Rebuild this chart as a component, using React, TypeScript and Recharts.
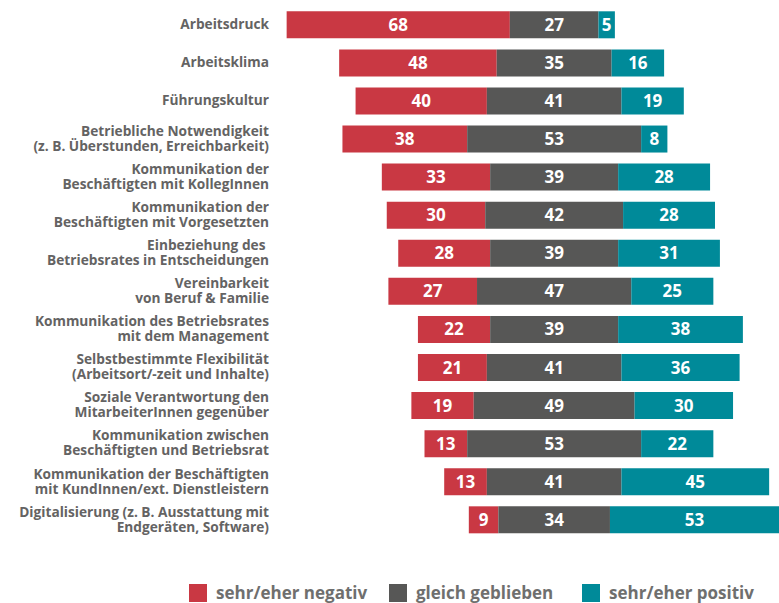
import { BarChart, Bar, XAxis, YAxis, LabelList } from 'recharts';

const categories = [
  'Arbeitsdruck',
  'Arbeitsklima',
  'Führungskultur',
  'Betriebliche Notwendigkeit\n(z. B. Überstunden, Erreichbarkeit)',
  'Kommunikation der\nBeschäftigten mit KollegInnen',
  'Kommunikation der\nBeschäftigten mit Vorgesetzten',
  'Einbeziehung des \nBetriebsrates in Entscheidungen',
  'Vereinbarkeit\nvon Beruf & Familie',
  'Kommunikation des Betriebsrates\nmit dem Management',
  'Selbstbestimmte Flexibilität\n(Arbeitsort/-zeit und Inhalte)',
  'Soziale Verantwortung den\nMitarbeiterInnen gegenüber',
  'Kommunikation zwischen\nBeschäftigten und Betriebsrat',
  'Kommunikation der Beschäftigten\nmit KundInnen/ext. Dienstleistern',
  'Digitalisierung (z. B. Ausstattung mit\nEndgeräten, Software)',
];

const negative = [68, 48, 40, 38, 33, 30, 28, 27, 22, 21, 19, 13, 13, 9];
const neutral = [27, 35, 41, 53, 39, 42, 39, 47, 39, 41, 49, 53, 41, 34];
const positive = [5, 16, 19, 8, 28, 28, 31, 25, 38, 36, 30, 22, 45, 53];

const series = [
  { key: 'neg', name: 'sehr/eher negativ', color: '#c93843' },
  { key: 'neu', name: 'gleich geblieben', color: '#575756' },
  { key: 'pos', name: 'sehr/eher positiv', color: '#008a99' },
];

// neutral segment of every bar is centred on this value
const CENTER = 82;

const rows = categories.map((name, i) => ({
  name,
  offset: CENTER - negative[i] - neutral[i] / 2,
  neg: negative[i],
  neu: neutral[i],
  pos: positive[i],
}));

const FONT = '"Open Sans", sans-serif';

function CategoryTick({ x, y, payload }: { x?: number; y?: number; payload?: { value: string } }) {
  const lines = (payload?.value ?? '').split('\n');
  const lh = 15;
  const start = (y ?? 0) - ((lines.length - 1) * lh) / 2;
  return (
    <text textAnchor="end" fill="#646363" fontSize={13.7} fontWeight={700} fontFamily={FONT}>
      {lines.map((l, i) => (
        <tspan key={i} x={x} y={start + i * lh} dy="0.35em" style={{ whiteSpace: 'pre' }}>
          {l}
        </tspan>
      ))}
    </text>
  );
}

const legendLeft = [189, 389, 582];

export default function App() {
  return (
    <div style={{ position: 'absolute', left: 0, top: 0, width: 779, height: 603, background: '#fff' }}>
      <BarChart
        width={779}
        height={603}
        data={rows}
        layout="vertical"
        margin={{ top: 5.3, right: 0, bottom: 64.6, left: 0 }}
        barSize={27}
      >
        <XAxis type="number" hide domain={[0, 150.5]} allowDataOverflow />
        <YAxis
          type="category"
          dataKey="name"
          width={285}
          axisLine={false}
          tickLine={false}
          tickSize={0}
          tickMargin={16}
          interval={0}
          tick={<CategoryTick />}
        />
        <Bar dataKey="offset" stackId="a" fill="transparent" isAnimationActive={false} />
        {series.map((s) => (
          <Bar key={s.key} dataKey={s.key} name={s.name} stackId="a" fill={s.color} isAnimationActive={false}>
            <LabelList
              dataKey={s.key}
              position="center"
              fill="#fff"
              fontSize={17}
              fontWeight={700}
              fontFamily={FONT}
            />
          </Bar>
        ))}
      </BarChart>
      {series.map((s, i) => (
        <div
          key={s.key}
          style={{
            position: 'absolute',
            left: legendLeft[i],
            top: 584,
            display: 'flex',
            alignItems: 'center',
            fontFamily: FONT,
            fontWeight: 700,
            fontSize: 17,
            color: '#6f6f6e',
            lineHeight: '18px',
            whiteSpace: 'nowrap',
          }}
        >
          <span style={{ width: 18, height: 18, background: s.color, marginRight: 9, display: 'inline-block' }} />
          {s.name}
        </div>
      ))}
    </div>
  );
}
